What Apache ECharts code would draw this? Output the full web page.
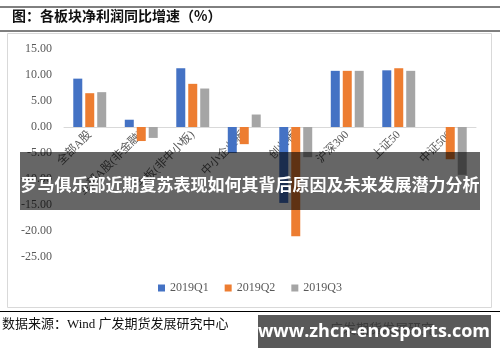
<!DOCTYPE html>
<html>
<head>
<meta charset="utf-8">
<script src="https://cdn.jsdelivr.net/npm/echarts@6/dist/echarts.min.js"></script>
<style>html,body{margin:0;padding:0;background:#fff}#c{width:500px;height:362px}</style>
</head>
<body>
<div id="c"></div>
<script>
var categories = ['全部A股', '全部A股(非金融)', '主板(非中小板)', '中小企业板', '创业板', '沪深300', '上证50', '中证500'];
var q1 = [9.3, 1.4, 11.3, -5.0, -14.6, 10.8, 10.9, 0];
var q2 = [6.5, -2.7, 8.3, -3.3, -21.0, 10.8, 11.3, -6.2];
var q3 = [6.7, -2.1, 7.4, 2.4, -5.8, 10.8, 10.8, -9.2];
var seriesNames = ['2019Q1', '2019Q2', '2019Q3'];
var colors = ['#4472C4', '#ED7D31', '#A5A5A5'];

var serif = "'Liberation Serif', 'Noto Sans CJK SC', serif";
var chart = echarts.init(document.getElementById('c'));
var mk = function (i, d) {
  return {
    name: seriesNames[i], type: 'bar', data: d, barWidth: 9, barGap: '33%',
    itemStyle: { color: colors[i] }
  };
};
chart.setOption({
  animation: false,
  grid: { left: 64, right: 24, top: 49, bottom: 105, containLabel: false },
  legend: {
    data: seriesNames, top: 277, left: 'center', icon: 'rect', itemWidth: 7, itemHeight: 7, itemGap: 16,
    textStyle: { color: '#595959', fontSize: 12, fontFamily: serif }
  },
  xAxis: {
    type: 'category', data: categories, offset: -130,
    axisLine: { onZero: false, lineStyle: { color: '#d9d9d9' } },
    axisTick: { show: false },
    axisLabel: { interval: 0, rotate: 45, fontSize: 11.5, color: '#595959', fontFamily: serif, margin: 6 }
  },
  yAxis: {
    type: 'value', min: -25, max: 15, interval: 5,
    axisLine: { show: false }, axisTick: { show: false }, splitLine: { show: false },
    axisLabel: { formatter: function (v) { return v.toFixed(2); }, fontSize: 12, color: '#595959', fontFamily: serif, margin: 12 }
  },
  series: [mk(0, q1), mk(1, q2), mk(2, q3)],
  graphic: [
    { type: 'line', shape: { x1: 0, y1: 7, x2: 500, y2: 7 }, style: { stroke: '#000', lineWidth: 1 }, z: 1 },
    { type: 'text', left: 12, top: 9, style: { text: '图：各板块净利润同比增速（%）', font: "bold 14px 'Noto Sans CJK SC'", fill: '#111' }, z: 1 },
    { type: 'line', shape: { x1: 0, y1: 31, x2: 500, y2: 31 }, style: { stroke: '#000', lineWidth: 1 }, z: 1 },
    { type: 'rect', shape: { x: 7.5, y: 33.5, width: 484, height: 274 }, style: { fill: 'none', stroke: '#d9d9d9', lineWidth: 1 }, z: 0 },
    { type: 'line', shape: { x1: 0, y1: 311.5, x2: 500, y2: 311.5 }, style: { stroke: '#000', lineWidth: 1 }, z: 1 },
    { type: 'text', left: 2, top: 318, style: { text: '数据来源：Wind 广发期货发展研究中心', font: "13px 'Liberation Serif', 'Noto Sans CJK SC'", fill: '#111' }, z: 1 },
    { type: 'text', left: 330, top: 322, style: { text: '广发期货发展研究', font: "13px 'Noto Sans CJK SC'", fill: '#aaa' }, z: 1 },
    { type: 'rect', shape: { x: 20, y: 152, width: 460, height: 58 }, style: { fill: 'rgba(0,0,0,0.6)' }, z: 100 },
    { type: 'text', x: 250, y: 185, style: { text: '罗马俱乐部近期复苏表现如何其背后原因及未来发展潜力分析', font: "bold 17px 'Noto Sans CJK SC'", fill: '#fff', align: 'center', verticalAlign: 'middle' }, z: 101 },
    { type: 'rect', shape: { x: 258, y: 315, width: 233, height: 33 }, style: { fill: 'rgba(0,0,0,0.65)' }, z: 100 },
    { type: 'text', x: 374, y: 332, style: { text: 'www.zhcn-enosports.com', font: "bold 18px 'Open Sans', 'DejaVu Sans'", fill: '#fff', align: 'center', verticalAlign: 'middle' }, z: 101 }
  ]
});
</script>
</body>
</html>
